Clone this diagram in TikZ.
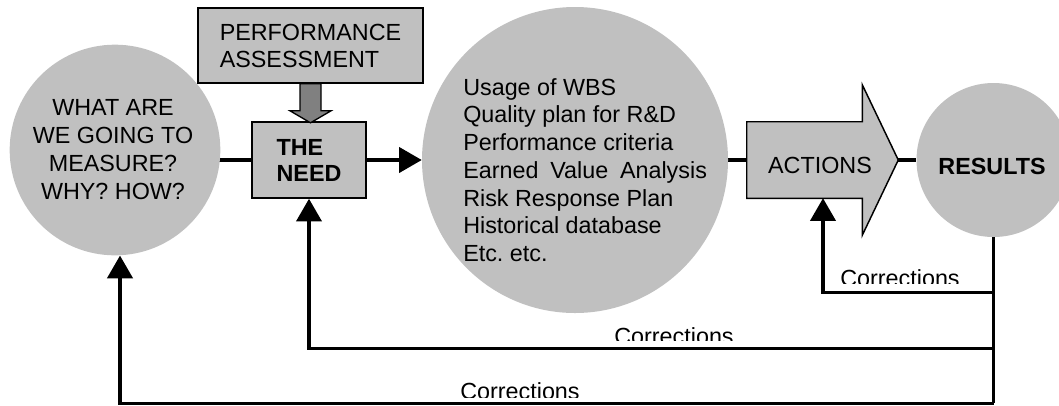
\documentclass[tikz,border=0pt]{standalone}
\usepackage{fontspec}
\setmainfont{Liberation Sans}
\usetikzlibrary{arrows.meta,calc,shapes.geometric,backgrounds}
\definecolor{boxgray}{HTML}{C0C0C0}
\definecolor{arrowgray}{HTML}{808080}
\frenchspacing

\begin{document}
\begin{tikzpicture}[x=0.75pt,y=-0.75pt,
  big/.style={font=\fontsize{17.5}{20.5}\selectfont},
  bigbold/.style={font=\fontsize{17.5}{19.5}\selectfont\bfseries},
  box/.style={draw=black, line width=1.2pt, fill=boxgray, inner sep=0pt},
  blob/.style={fill=boxgray, draw=none, inner sep=0pt},
  wire/.style={line width=2.3pt},
  feed/.style={wire, -{Triangle[length=17pt,width=19pt]}},
]
\useasboundingbox (0,0) rectangle (1059,405);

% left question bubble
\node[blob, circle, minimum size=158pt] (what) at (115,150) {};
\node[big, align=center, inner sep=0pt, font=\fontsize{17.5}{21}\selectfont] (whattext) at (113,150)
  {WHAT ARE\\WE GOING TO\\MEASURE?\\WHY? HOW?};

% assessment box and the need
\node[box, big, align=left, minimum width=168.75pt, minimum height=56.25pt,
      font=\fontsize{17.5}{20.25}\selectfont] (perf) at (310.5,45.5)
  {PERFORMANCE\\ASSESSMENT};
\node[box, bigbold, align=left, minimum width=85.5pt, minimum height=57pt] (need) at (309,160)
  {THE\\NEED};

% thick gray block arrow from assessment down to the need
\draw[fill=arrowgray, line width=1pt]
  ($(perf.south)+(-10.5,0)$) -- ($(perf.south)+(10.5,0)$) --
  ($(perf.south)+(10.5,27)$) -- ($(perf.south)+(20.5,27)$) --
  ($(perf.south)+(0,39)$) --
  ($(perf.south)+(-20.5,27)$) -- ($(perf.south)+(-10.5,27)$) -- cycle;

% tools bubble
\node[blob, circle, minimum size=229.5pt] (tools) at (575,160) {};
\node[big, align=left, inner sep=0pt, anchor=west, font=\fontsize{17.5}{20.8}\selectfont] (list) at (463,170)
  {Usage of WBS\\
   Quality plan for R\&D\\
   Performance criteria\\
   Earned\hspace{4pt} Value\hspace{4pt} Analysis\\
   Risk Response Plan\\
   Historical database\\
   Etc. etc.};

% actions block arrow
\node[inner sep=0pt, minimum width=86.25pt, minimum height=57pt] (actions) at (804.5,160) {};
\coordinate (acttip) at ($(actions.east)+(36,0)$);
\draw[fill=boxgray, line width=1.1pt]
  (actions.north west) -- (actions.north east) -- ($(actions.north east)+(0,-37)$) --
  (acttip) -- ($(actions.south east)+(0,37)$) -- (actions.south east) --
  (actions.south west) -- cycle;
\node[big] (actlabel) at (820,165) {ACTIONS};

% results bubble
\node[blob, circle, minimum size=115.5pt] (results) at (993.5,160) {};
\node[bigbold] (reslabel) at (992,166) {RESULTS};

% main flow
\begin{scope}[on background layer]
  \draw[wire] (need.west) -- (what.center |- need.west);
  \draw[wire] (tools.east) -- (actions.west);
  \draw[wire] (acttip) -- (results.west);
\end{scope}
\draw[feed] (need.east) -- (tools.west);

% correction loops
\path (results.south) ++(0,55) coordinate (j1);
\path (results.south) ++(0,111) coordinate (j2);
\path (results.south) ++(0,166) coordinate (drop);
\draw[wire] (results.south) -- (drop);
\draw[feed] (j1) -| ($(actions.south)+(18.5,0)$);
\draw[feed] (j2) -| (need.south);
\draw[feed] (drop) -| ($(what.south)+(5,0)$);

% loop labels, cut off just above their lines
\begin{scope}
  \clip (800,255) rectangle (1000,283);
  \node[big, anchor=base] (corr1) at (900,286) {Corrections};
\end{scope}
\begin{scope}
  \clip (560,312) rectangle (800,340);
  \node[big, anchor=base] (corr2) at (674,344) {Corrections};
\end{scope}
\begin{scope}
  \clip (400,368) rectangle (650,397);
  \node[big, anchor=base] (corr3) at (520,399) {Corrections};
\end{scope}
\end{tikzpicture}
\end{document}
